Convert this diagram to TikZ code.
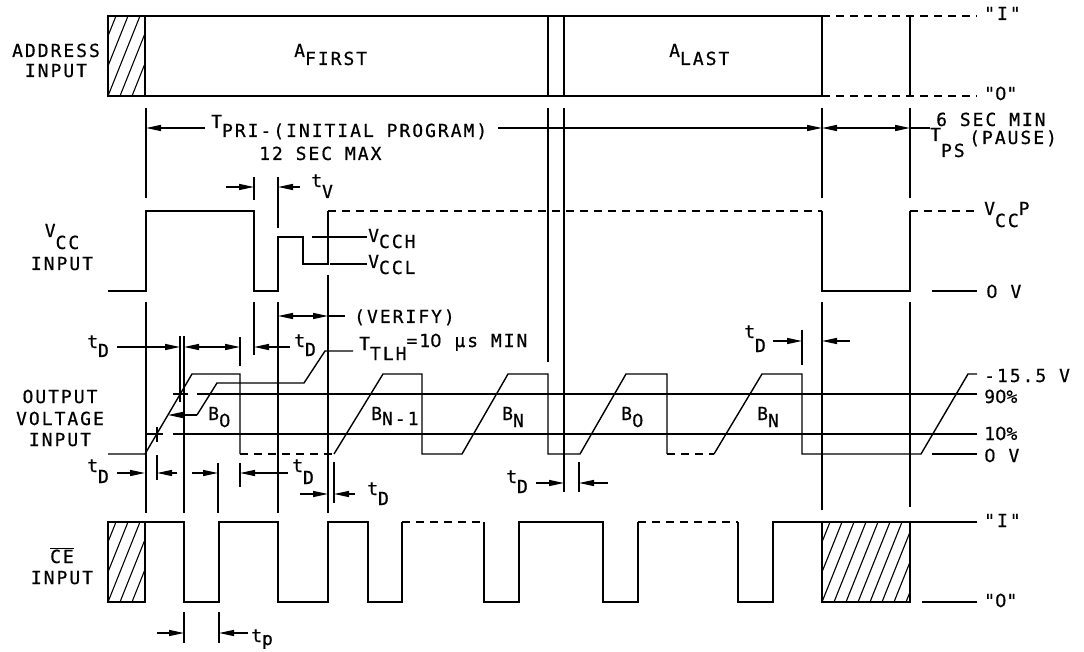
\documentclass[tikz,border=0pt]{standalone}
\usepackage{fontspec}
\usetikzlibrary{arrows.meta}
\newfontfamily\pf[LetterSpace=11,FakeBold=0.6]{DejaVu Sans Mono}
\newfontfamily\zf[FakeBold=0.6]{DejaVu Sans}
\newcommand\z{{\zf 0}}
\newcommand\dn[2][9pt]{\raisebox{-#1}{#2}}
\tikzset{
  sig/.style={line width=1.4pt},
  dsh/.style={line width=1.4pt, dash pattern=on 8pt off 6pt},
  dim/.style={line width=1.4pt, -{Triangle[length=15pt,width=6pt]}},
  ddim/.style={line width=1.4pt, {Triangle[length=15pt,width=6pt]}-{Triangle[length=15pt,width=6pt]}},
  hatch/.style={line width=1.1pt},
  lbl/.style={font=\pf\fontsize{18pt}{20pt}\selectfont, inner sep=0pt, anchor=base west},
  clbl/.style={lbl, anchor=base},
}
\begin{document}
\begin{tikzpicture}[x=1pt,y=-1pt]
\useasboundingbox (0,0) rectangle (1084,652);
% ---------------- ADDRESS INPUT ----------------
\draw[sig] (822,16) -- (108,16) -- (108,96) -- (822,96) -- cycle;
\draw[sig] (145,16) -- (145,96);
\draw[sig] (548,16) -- (548,96) (564,16) -- (564,96);
\draw[dsh] (822,16) -- (977,16) (822,96) -- (977,96);
\draw[sig] (910,16) -- (910,96);
\begin{scope}
\clip (108,16) rectangle (145,96);
\foreach \x in {72,84,...,156} \draw[hatch] (\x,96) -- (\x+32,16);
\end{scope}
\node[clbl] (la1) at (56,57) {ADDRESS};
\node[clbl] (la2) at (56,77) {INPUT};
\node[lbl] (afirst) at (294,57) {A\dn[8pt]{FIRST}};
\node[lbl] (alast) at (669,57) {A\dn[8pt]{LAST}};
\node[lbl] (qi1) at (984,20) {"I"};
\node[lbl] (qo1) at (984,100) {"\z"};
% ---------------- T_PRI ----------------
\draw[sig] (146,108) -- (146,198);
\draw[dim] (205,128) -- (146,128);
\draw[dim] (498,128) -- (822,128);
\draw[ddim] (822,128) -- (910,128);
\draw[sig] (910,128) -- (930,128);
\node[lbl] (tpri) at (211,128) {T\dn{PRI-(INITIAL PROGRAM)}};
\node[lbl] (sec12) at (259,160) {12 SEC MAX};
\node[lbl] (sec6) at (936,126) {6 SEC MIN};
\node[lbl] (tps) at (930,141) {T\dn[16pt]{PS}};
\node[lbl] (pause) at (969,144) {(PAUSE)};
% guides
\draw[sig] (548,108) -- (548,362);
\draw[sig] (564,108) -- (564,492);
\draw[sig] (822,108) -- (822,198) (822,302) -- (822,510);
\draw[sig] (910,108) -- (910,198) (910,302) -- (910,507);
\draw[sig] (254,177) -- (254,200) (254,302) -- (254,355);
\draw[sig] (278,177) -- (278,228) (278,302) -- (278,513);
\draw[sig] (146,302) -- (146,513);
\draw[sig] (328,275) -- (328,513);
% t_V
\draw[dim] (226,187) -- (254,187);
\draw[dim] (300,187) -- (278,187);
\node[lbl] (tv) at (311,187) {t\dn[11pt]{V}};
% ---------------- VCC ----------------
\draw[sig] (108,291) -- (146,291) -- (146,211) -- (254,211) -- (254,291) -- (278,291)
  -- (278,237) -- (303,237) -- (303,264) -- (328,264) -- (328,211);
\draw[dsh] (328,211) -- (822,211);
\draw[sig] (822,211) -- (822,291) -- (910,291) -- (910,211);
\draw[dsh] (910,211) -- (977,211);
\draw[sig] (932,291) -- (977,291);
\draw[sig] (312,237) -- (367,237);
\draw[sig] (330,264) -- (367,264);
\node[lbl] (vcch) at (368,242) {V\dn[6pt]{CCH}};
\node[lbl] (vccl) at (368,268) {V\dn[6pt]{CCL}};
\node[clbl] (lv1) at (62,237) {V\dn[12pt]{CC}};
\node[clbl] (lv2) at (62,270) {INPUT};
\node[lbl] (vccp) at (984,215) {V\dn[12pt]{CC}P};
\node[lbl] (ov1) at (986,298) {\z{} V};
% VERIFY
\draw[ddim] (278,316) -- (328,316);
\draw[sig] (328,316) -- (345,316);
\node[lbl] (verify) at (354,323) {(VERIFY)};
% upper t_D row
\draw[dim] (117,347) -- (180,347);
\draw[sig] (180,336) -- (180,402);
\draw[sig] (184,336) -- (184,513);
\draw[ddim] (184,347) -- (240,347);
\draw[sig] (240,337) -- (240,366);
\draw[dim] (290,347) -- (254,347);
\node[lbl] (td1) at (87,348) {t\dn{D}};
\node[lbl] (td2) at (294,347) {t\dn{D}};
% T_TLH leader
\draw[sig] (353,351) -- (325,351) -- (304,383) -- (217,383) -- (197,415);
\draw[dim] (197,415) -- (168,415);
\node[lbl] (ttlh) at (359,350) {T\dn[10pt]{TLH}\raisebox{3pt}{=1\z{} µs MIN}};
% right t_D
\draw[dim] (773,341) -- (802,341);
\draw[dim] (850,341) -- (822,341);
\draw[sig] (802,330) -- (802,365);
\node[lbl] (td3) at (744,338) {t\dn[14pt]{D}};
% ---------------- OUTPUT ----------------
\draw[sig] (173,394) -- (188,394) (197,394) -- (977,394);
\draw[sig] (147,434) -- (163,434) (173,434) -- (977,434);
\draw[sig] (157,427) -- (157,442) (157,455) -- (157,480);
\draw[sig] (108,454) -- (145,454) -- (192,374) -- (240,374) -- (240,454);
\draw[dsh] (240,454) -- (334,454);
\draw[sig] (334,454) -- (383,374) -- (422,374) -- (422,454) -- (462,454) -- (508,374)
  -- (548,374) -- (548,454) -- (580,454) -- (626,374) -- (667,374) -- (667,454);
\draw[dsh] (667,454) -- (714,454);
\draw[sig] (714,454) -- (762,374) -- (802,374) -- (802,454) -- (921,454) -- (968,374) -- (977,374);
\draw[sig] (932,454) -- (977,454);
\node[lbl] (b0a) at (208,420) {B\dn[7pt]{\z}};
\node[lbl] (bn1) at (371,420) {B\dn[5pt]{N-1}};
\node[lbl] (bna) at (502,420) {B\dn[7pt]{N}};
\node[lbl] (b0b) at (621,420) {B\dn[7pt]{\z}};
\node[lbl] (bnb) at (757,420) {B\dn[7pt]{N}};
\node[lbl] (v155) at (984,382) {-15.5 V};
\node[lbl] (p90) at (984,403) {9\z\%};
\node[lbl] (p10) at (984,440) {1\z\%};
\node[lbl] (ov2) at (984,462) {\z{} V};
\node[clbl] (lo1) at (60,403) {OUTPUT};
\node[clbl] (lo2) at (60,425) {VOLTAGE};
\node[clbl] (lo3) at (60,446) {INPUT};
% lower t_D row
\draw[dim] (117,473) -- (145,473);
\draw[dim] (177,473) -- (157,473);
\draw[dim] (192,473) -- (218,473);
\draw[dim] (288,473) -- (240,473);
\draw[sig] (218,463) -- (218,513);
\draw[sig] (240,463) -- (240,487);
\node[lbl] (td4) at (87,472) {t\dn[11pt]{D}};
\node[lbl] (td5) at (292,472) {t\dn[12pt]{D}};
\draw[dim] (300,494) -- (328,494);
\draw[dim] (355,494) -- (334,494);
\draw[sig] (334,462) -- (334,503);
\node[lbl] (td6) at (367,495) {t\dn[10pt]{D}};
\draw[dim] (536,483) -- (564,483);
\draw[dim] (608,483) -- (579,483);
\draw[sig] (579,462) -- (579,492);
\node[lbl] (td7) at (506,483) {t\dn[10pt]{D}};
% ---------------- CE ----------------
\draw[sig] (108,522) rectangle (145,602);
\begin{scope}
\clip (108,522) rectangle (145,602);
\foreach \x in {72,84,...,156} \draw[hatch] (\x,602) -- (\x+32,522);
\end{scope}
\draw[sig] (145,522) -- (184,522) -- (184,602) -- (219,602) -- (219,522) -- (278,522)
  -- (278,602) -- (328,602) -- (328,522) -- (368,522) -- (368,602) -- (402,602) -- (402,522);
\draw[dsh] (402,522) -- (484,522);
\draw[sig] (484,522) -- (484,602) -- (519,602) -- (519,522) -- (603,522) -- (603,602)
  -- (638,602) -- (638,522);
\draw[dsh] (638,522) -- (738,522);
\draw[sig] (738,522) -- (738,602) -- (773,602) -- (773,522) -- (977,522);
\draw[sig] (822,522) -- (822,602) -- (910,602) -- (910,522);
\begin{scope}
\clip (822,522) rectangle (910,602);
\foreach \x in {786,798,...,910} \draw[hatch] (\x,602) -- (\x+32,522);
\end{scope}
\draw[sig] (922,602) -- (977,602);
\node[lbl] (qi2) at (984,527) {"I"};
\node[lbl] (qo2) at (984,607) {"\z"};
\node[clbl] (lc1) at (62,563) {$\overline{\hbox{CE}}$};
\node[clbl] (lc2) at (62,584) {INPUT};
% t_p
\draw[sig] (184,612) -- (184,643) (219,612) -- (219,643);
\draw[dim] (157,633) -- (184,633);
\draw[dim] (248,633) -- (219,633);
\node[lbl] (tp) at (251,642) {t\dn[3pt]{p}};
\end{tikzpicture}
\end{document}
